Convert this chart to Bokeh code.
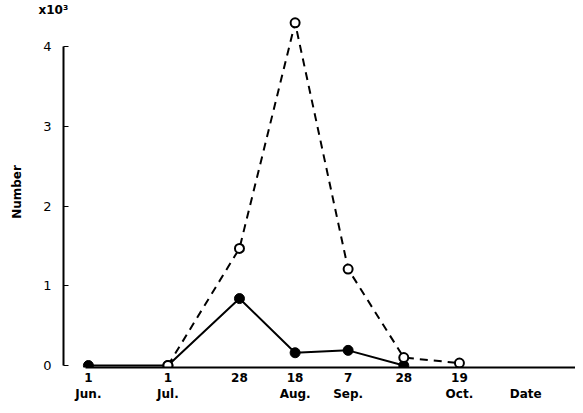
from bokeh.plotting import figure
from bokeh.models import FixedTicker, Range1d, Title
from bokeh.embed import file_html
from bokeh.resources import INLINE

# days after 1 June
dates = [0, 30, 57, 78, 98, 119, 140]
date_labels = ["1\nJun.", "1\nJul.", "28", "18\nAug.", "7\nSep.", "28", "19\nOct."]
x_title = "Date"
x_title_pos = 165
y_unit = "x10³"

# series (x10^3)
open_x = [30, 57, 78, 98, 119, 140]
open_y = [0.0, 1.47, 4.3, 1.21, 0.1, 0.03]
filled_x = [0, 30, 57, 78, 98, 119]
filled_y = [0.0, 0.0, 0.84, 0.16, 0.19, 0.0]
y_ticks = [0, 1, 2, 3, 4]

FONT = "DejaVu Sans"

p = figure(width=575, height=405, output_backend="svg", toolbar_location=None,
           x_range=Range1d(-9.4, 183.8), y_range=Range1d(-0.025, 4.38),
           min_border_left=63, min_border_right=0, min_border_top=0, min_border_bottom=38)
p.outline_line_color = None
p.grid.visible = False
p.background_fill_color = "white"

p.add_layout(Title(text=y_unit, align="left", offset=-25, standoff=0,
                   text_font=FONT, text_font_size="12px", text_font_style="bold",
                   text_color="black"), "above")

p.line(filled_x, filled_y, line_color="black", line_width=2)
p.line(open_x, open_y, line_color="black", line_width=2, line_dash="8 6")
p.scatter(filled_x, filled_y, size=10, fill_color="black", line_color="black")
p.scatter(open_x, open_y, size=9, fill_color="white", line_color="black", line_width=2)

xa = p.xaxis[0]
xa.ticker = FixedTicker(ticks=dates + [x_title_pos])
overrides = {d: l for d, l in zip(dates, date_labels)}
overrides[x_title_pos] = " \n" + x_title
xa.major_label_overrides = overrides
xa.bounds = (-1, 183.8)
xa.axis_line_width = 2
xa.major_tick_in = 0
xa.major_tick_out = 0
xa.minor_tick_line_color = None
xa.major_label_standoff = 3
xa.major_label_text_font = FONT
xa.major_label_text_font_style = "bold"
xa.major_label_text_font_size = "12px"
xa.major_label_text_color = "black"

ya = p.yaxis[0]
ya.ticker = FixedTicker(ticks=y_ticks)
ya.bounds = (0, 4)
ya.axis_line_width = 2
ya.major_tick_in = 5
ya.major_tick_out = 0
ya.minor_tick_line_color = None
ya.major_label_standoff = 12
ya.major_label_text_font = FONT
ya.major_label_text_font_size = "13px"
ya.major_label_text_color = "black"
ya.axis_label = "Number"
ya.axis_label_text_font = FONT
ya.axis_label_text_font_style = "bold"
ya.axis_label_text_font_size = "12px"
ya.axis_label_text_color = "black"
ya.axis_label_standoff = 16

open("out.html", "w").write(file_html(p, INLINE))
